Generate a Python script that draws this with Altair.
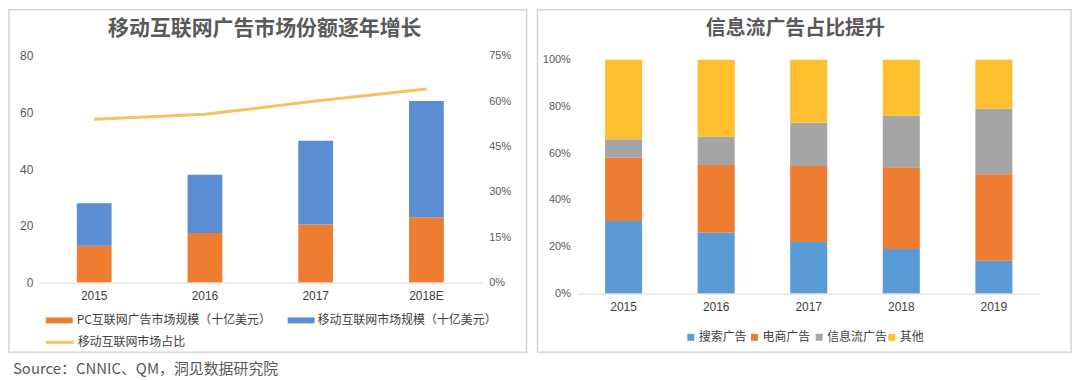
import altair as alt
import pandas as pd

# ---------------- data ----------------
years_left = ["2015", "2016", "2017", "2018E"]
pc_values = [13, 17.5, 20.5, 23]
mobile_values = [15, 20.5, 29.5, 41]
mobile_share = [0.54, 0.556, 0.60, 0.64]
left_series = ["PC互联网广告市场规模（十亿美元）", "移动互联网市场规模（十亿美元）"]
share_label = "移动互联网市场占比"
left_title = "移动互联网广告市场份额逐年增长"
left_ticks = [0, 20, 40, 60, 80]
right_ticks_share = [0, 0.15, 0.30, 0.45, 0.60, 0.75]

years_right = ["2015", "2016", "2017", "2018", "2019"]
search_share = [31, 26, 22, 19, 14]
ecom_share = [27, 29, 32.5, 35, 37]
feed_share = [8, 12, 18.5, 22, 28]
other_share = [34, 33, 27, 24, 21]
right_series = ["搜索广告", "电商广告", "信息流广告", "其他"]
right_title = "信息流广告占比提升"
right_ticks = [0, 0.2, 0.4, 0.6, 0.8, 1.0]

source_text = "Source：CNNIC、QM，洞见数据研究院"

# ---------------- styles ----------------
CJK = "Noto Sans CJK SC"
NUM = "Liberation Sans"
ORANGE = "#ED7D31"
BLUE_L = "#5B8DD3"
BLUE_R = "#5B9BD5"
GRAY = "#A5A5A5"
YELLOW = "#FDBF2D"
GOLD = "#F2C265"
BOX = "#D4D4D4"
TXT = "#595959"

one = pd.DataFrame({"a": [0]})


def text_mark(t, x, y, size=12, weight="normal", align="left", color="#404040", font=CJK):
    return alt.Chart(pd.DataFrame({"t": [t]})).mark_text(
        font=font, fontSize=size, fontWeight=weight, align=align,
        baseline="middle", color=color
    ).encode(x=alt.value(x), y=alt.value(y), text="t:N")


def rect_mark(x, x2, y, y2, fill, stroke=None, sw=0):
    kw = dict(fill=fill)
    if stroke:
        kw.update(stroke=stroke, strokeWidth=sw)
    return alt.Chart(one).mark_rect(**kw).encode(
        x=alt.value(x), x2=alt.value(x2), y=alt.value(y), y2=alt.value(y2)
    )


x_axis = alt.Axis(title=None, labelAngle=0, ticks=False, domainColor="#D9D9D9",
                  domainWidth=1, labelPadding=8, labelFontSize=12, labelColor="#404040",
                  labelFont=NUM, grid=False, zindex=1)

# ---------------- left panel ----------------
LW, LH = 445, 228
rows = []
for i, yr in enumerate(years_left):
    rows.append({"year": yr, "series": left_series[0], "value": pc_values[i], "idx": 0})
    rows.append({"year": yr, "series": left_series[1], "value": mobile_values[i], "idx": 1})
df_left = pd.DataFrame(rows)
df_share = pd.DataFrame({"year": years_left, "share": mobile_share})

left_x = alt.X("year:N", sort=years_left,
               scale=alt.Scale(paddingInner=0.686, paddingOuter=0.343), axis=x_axis)

bars_l = alt.Chart(df_left).mark_bar().encode(
    x=left_x,
    y=alt.Y("value:Q", stack="zero", scale=alt.Scale(domain=[0, 80], nice=False),
            axis=alt.Axis(orient="left", values=left_ticks, title=None, domain=False,
                          ticks=False, grid=False, labelPadding=6, labelFontSize=12,
                          labelColor=TXT, labelFont=NUM, zindex=1)),
    color=alt.Color("series:N", scale=alt.Scale(domain=left_series, range=[ORANGE, BLUE_L]),
                    legend=None),
    order=alt.Order("idx:Q", sort="ascending"),
)

line_l = alt.Chart(df_share).mark_line(color=GOLD, strokeWidth=3).encode(
    x=alt.X("year:N", sort=years_left),
    y=alt.Y("share:Q", scale=alt.Scale(domain=[0, 0.75], nice=False),
            axis=alt.Axis(orient="right", values=right_ticks_share, format=".0%", title=None,
                          domain=False, ticks=False, grid=False, labelPadding=7,
                          labelFontSize=11, labelColor=TXT, labelFont=NUM, zindex=1)),
)

leg_l = [
    rect_mark(7, 34, 263, 269, ORANGE),
    text_mark(left_series[0], 38, 266),
    rect_mark(250, 277, 263, 269, BLUE_L),
    text_mark(left_series[1], 280, 266),
    alt.Chart(one).mark_rule(color=GOLD, strokeWidth=3).encode(
        x=alt.value(7), x2=alt.value(35), y=alt.value(288)),
    text_mark(share_label, 39, 288),
]

left = alt.layer(
    rect_mark(-30, 490, -46, 298, "transparent", BOX, 1.5),
    bars_l, line_l,
    text_mark(left_title, 227, -27, size=21, weight="bold", align="center", color=TXT),
    *leg_l,
    text_mark(source_text, -26, 315, size=15, color=TXT),
).resolve_scale(y="independent").properties(width=LW, height=LH)

# ---------------- right panel ----------------
# plot area top is shared with the left panel; 100% sits 4px below it
RW, RH = 465, 239
R_TOP = RH / 235.0
rows = []
for i, yr in enumerate(years_right):
    vals = [search_share[i], ecom_share[i], feed_share[i], other_share[i]]
    for j, s in enumerate(right_series):
        rows.append({"year": yr, "series": s, "value": vals[j] / 100.0, "idx": j})
df_right = pd.DataFrame(rows)

bars_r = alt.Chart(df_right).mark_bar().encode(
    x=alt.X("year:N", sort=years_right,
            scale=alt.Scale(paddingInner=0.6, paddingOuter=0.3), axis=x_axis),
    y=alt.Y("value:Q", stack="zero", scale=alt.Scale(domain=[0, R_TOP], nice=False),
            axis=alt.Axis(values=right_ticks, format=".0%", title=None, domain=False,
                          ticks=False, grid=False, labelPadding=7, labelFontSize=11,
                          labelColor=TXT, labelFont=NUM, zindex=1)),
    color=alt.Color("series:N",
                    scale=alt.Scale(domain=right_series, range=[BLUE_R, ORANGE, GRAY, YELLOW]),
                    legend=None),
    order=alt.Order("idx:Q", sort="ascending"),
)

leg_r = []
sq_centers = [114, 178, 243, 316]
r_colors = [BLUE_R, ORANGE, GRAY, YELLOW]
for c, col, lab in zip(sq_centers, r_colors, right_series):
    leg_r.append(rect_mark(c - 3.5, c + 3.5, 279.5, 286.5, col))
    leg_r.append(text_mark(lab, c + 8, 283))

right = alt.layer(
    rect_mark(-40, 496, -46, 298, "transparent", BOX, 1.5),
    bars_r,
    text_mark(right_title, 219, -27, size=20, weight="bold", align="center", color=TXT),
    *leg_r,
).properties(width=RW, height=RH)

chart = (alt.hconcat(left, right, spacing=9)
         .resolve_scale(color="independent")
         .properties(padding=0)
         .configure_view(stroke=None))

chart.save("out.html", embed_options={"renderer": "svg", "actions": False})
